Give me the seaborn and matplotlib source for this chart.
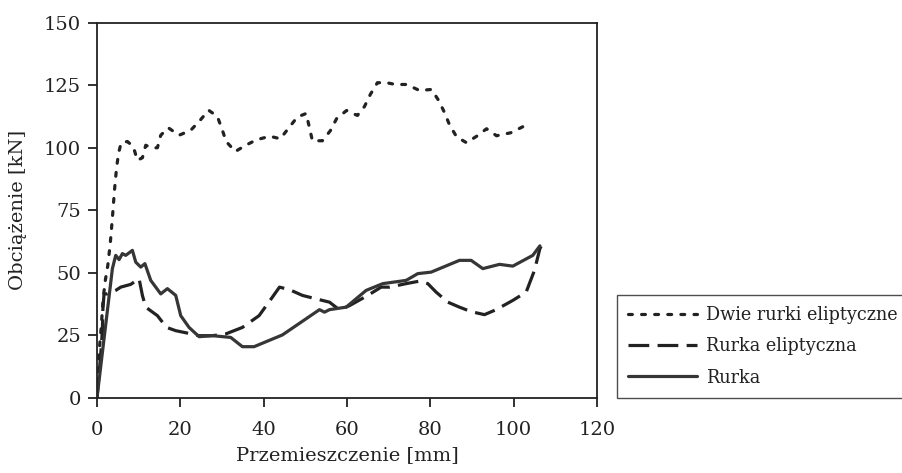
import numpy as np
import pandas as pd
import matplotlib
matplotlib.use("Agg")
import matplotlib.pyplot as plt
import seaborn as sns

# Displacement [mm] and load [kN] for each specimen
x_dwie = [0, 0.5, 1.0, 1.5, 2.0, 2.6, 3.2, 3.7, 4.2, 4.7, 5.2, 5.8, 7.3, 8.7, 9.7, 10.9,
          11.7, 13.1, 14.5, 15.3, 17.1, 19.7, 22.5, 24.5, 26.8, 28.9, 30.1, 31.0, 33.2,
          35.7, 38.3, 41.5, 44.0, 46.2, 48.1, 50.2, 51.0, 51.7, 54.1, 56.0, 57.5, 59.9,
          62.5, 64.2, 65.6, 67.3, 69.5, 71.6, 74.3, 77.4, 80.3, 82.0, 83.4, 84.6, 86.3,
          88.7, 91.3, 93.5, 95.9, 99.3, 102.2]
y_dwie = [0, 18, 28, 40, 47, 53, 62, 72, 83, 92, 98, 102, 102.5, 100.5, 95, 96,
          101, 100, 100, 105, 108, 105, 107, 110.5, 115, 112.5, 107, 102.5, 98.5,
          101, 103.2, 104.6, 103.6, 108.3, 112.3, 113.7, 108, 102.8, 102.8, 106.8, 111.6, 114.9,
          112.9, 116.5, 121.3, 126, 126, 125.3, 125.3, 122.9, 123.3, 118.9, 114.1, 109.2, 104.4,
          102, 104.8, 107.6, 104.8, 106, 108.4]

x_elip = [0, 0.9, 1.3, 1.4, 1.7, 2.5, 4.5, 5.7, 8.1, 10.1, 10.9, 11.7, 14.5, 16.7, 18.9,
          22.1, 24.5, 27.7, 30.9, 34.9, 38.9, 42.1, 43.8, 46.2, 49.3, 52.6, 55.8, 58.2,
          60.6, 65.0, 68.2, 70.2, 74.2, 77.4, 79.4, 81.4, 84.2, 87.0, 89.8, 93.0, 95.8,
          99.8, 103.0, 105.0, 106.3, 106.6]
y_elip = [0, 17.5, 26.9, 35, 41.6, 41.6, 43, 44.3, 45.4, 47.7, 41, 36.3, 32.9, 28.2, 26.9,
          25.8, 24.9, 24.9, 25.6, 28.2, 32.9, 40.3, 44.3, 43.3, 41, 39.6, 38.3, 35.2,
          36.9, 41, 44.3, 44.3, 45.7, 46.7, 45.7, 42.3, 38.3, 36.3, 34.5, 33.3, 35.3,
          39, 42.3, 51, 59.7, 60.6]

x_rurka = [0, 3.7, 4.5, 5.3, 6.1, 6.9, 8.5, 9.3, 10.5, 11.5, 12.9, 15.3, 16.9, 18.9,
           20.1, 22.1, 24.5, 27.7, 32.1, 34.9, 37.7, 44.5, 53.4, 54.6, 55.8, 59.8,
           64.6, 68.6, 74.2, 77.0, 80.2, 87.0, 89.8, 92.6, 96.6, 99.8, 104.6, 106.3]
y_rurka = [0, 51.7, 57, 55.3, 57.7, 57, 59, 54.3, 52.3, 53.7, 47, 41.6, 43.7, 41,
           32.9, 28.2, 24.5, 24.9, 24.2, 20.5, 20.5, 25.2, 35.3, 34.3, 35.3, 36.3,
           43, 45.7, 47, 49.7, 50.3, 55, 55, 51.7, 53.4, 52.7, 57, 60.8]

labels = ["Dwie rurki eliptyczne", "Rurka eliptyczna", "Rurka"]
x_ticks = [0, 20, 40, 60, 80, 100, 120]
y_ticks = [0, 25, 50, 75, 100, 125, 150]

sns.set_theme(style="white")
plt.rcParams["font.family"] = ["DejaVu Serif"]
ink = "#222222"

fig = plt.figure(figsize=(9.03, 4.73), dpi=100)
ax = fig.add_axes([0.1074, 0.1586, 0.5537, 0.7935])

series = [
    (x_dwie, y_dwie, labels[0], ink),
    (x_elip, y_elip, labels[1], ink),
    (x_rurka, y_rurka, labels[2], "#363636"),
]
for xs, ys, lab, col in series:
    df = pd.DataFrame({"x": xs, "y": ys})
    sns.lineplot(data=df, x="x", y="y", ax=ax, sort=False, estimator=None,
                 color=col, linewidth=2.3, label=lab)

lines = ax.get_lines()
lines[0].set_dashes((1.2, 2.9))
lines[0].set_dash_capstyle("round")
lines[1].set_dashes((6.5, 2.6))

ax.set_xlim(0, 120)
ax.set_ylim(0, 150)
ax.set_xticks(x_ticks)
ax.set_yticks(y_ticks)
ax.set_xlabel("Przemieszczenie [mm]", fontsize=14, color=ink, labelpad=5)
ax.set_ylabel("Obciążenie [kN]", fontsize=14, color=ink, labelpad=12)
ax.tick_params(axis="both", which="both", direction="out", length=6.5, width=1.3,
               colors=ink, labelsize=14, bottom=True, left=True, top=False, right=False)
ax.tick_params(axis="x", pad=10)
ax.tick_params(axis="y", pad=5)
for sp in ax.spines.values():
    sp.set_color(ink)
    sp.set_linewidth(1.3)
    sp.set_visible(True)

# Legend sits beside the axes, running off the right edge of the figure
leg = ax.legend(loc="lower left", bbox_to_anchor=(617 / 903, (473 - 398) / 473),
                bbox_transform=fig.transFigure, fontsize=12.7, handlelength=3.9,
                frameon=True, fancybox=False, borderpad=0.65, labelspacing=0.74,
                handletextpad=0.5, borderaxespad=0)
leg.get_frame().set_edgecolor(ink)
leg.get_frame().set_linewidth(1.0)
for t in leg.get_texts():
    t.set_color(ink)

fig.savefig("out.png", dpi=100)
